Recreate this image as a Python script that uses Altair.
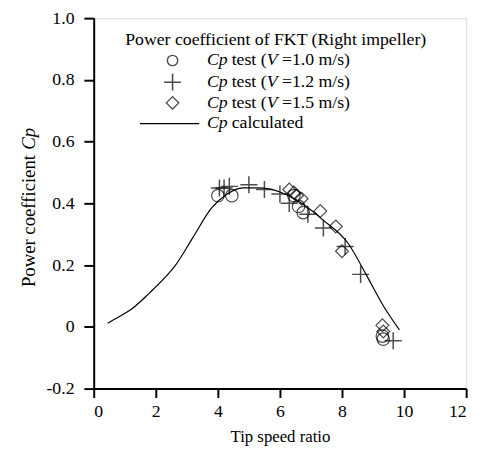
import altair as alt
import pandas as pd

# ---- data ----
v10_x = [4.0, 4.45, 6.45, 6.6, 6.75, 9.3, 9.33]
v10_y = [0.425, 0.425, 0.425, 0.39, 0.37, -0.03, -0.04]

v12_x = [4.05, 4.2, 4.37, 5.0, 5.5, 6.0, 6.3, 6.9, 7.4, 8.1, 8.6, 9.65]
v12_y = [0.45, 0.45, 0.455, 0.46, 0.445, 0.43, 0.40, 0.365, 0.32, 0.26, 0.17, -0.045]

v15_x = [6.3, 6.45, 6.55, 6.7, 7.3, 7.8, 8.0, 9.3, 9.33]
v15_y = [0.445, 0.435, 0.425, 0.415, 0.375, 0.325, 0.245, 0.005, -0.015]

calc_x = [0.45, 0.8, 1.2, 1.8, 2.3, 2.6, 3.2, 3.8, 4.3, 4.8, 5.3, 6.0, 6.7, 7.4, 8.2, 8.8, 9.35, 9.85]
calc_y = [0.012, 0.032, 0.056, 0.11, 0.16, 0.195, 0.29, 0.385, 0.43, 0.45, 0.45, 0.437, 0.40, 0.345, 0.27, 0.165, 0.065, -0.01]

x_ticks = [0, 2, 4, 6, 8, 10, 12]
y_ticks = [-0.2, 0, 0.2, 0.4, 0.6, 0.8, 1.0]

legend_title = "Power coefficient of FKT (Right impeller)"
legend_speeds = ["=1.0 m/s)", "=1.2 m/s)", "=1.5 m/s)"]
legend_calc = "calculated"

FONT = "Liberation Serif"
W, H = 378, 376

xs = alt.Scale(domain=[0, 12], nice=False, zero=False)
ys = alt.Scale(domain=[-0.2, 1.0], nice=False, zero=False)

x_axis = alt.Axis(values=x_ticks, title="Tip speed ratio", grid=False,
                  tickSize=9, tickWidth=2, domainWidth=2, domainColor="black", tickColor="black",
                  labelFont=FONT, labelFontSize=18, labelColor="black", labelPadding=5,
                  titleFont=FONT, titleFontSize=17, titleFontWeight="normal", titleColor="black",
                  titlePadding=9)
y_axis = alt.Axis(values=y_ticks, title=None, grid=False,
                  labelExpr="datum.value == 0 ? '0' : (datum.value < 0 ? '-' + format(-datum.value, '.1f') : format(datum.value, '.1f'))",
                  tickSize=10, tickWidth=2, domainWidth=2, domainColor="black", tickColor="black",
                  labelFont=FONT, labelFontSize=18, labelColor="black", labelPadding=10)

plus_shape = "M-1,0L1,0M0,-1L0,1"

d10 = pd.DataFrame({"x": v10_x, "y": v10_y})
d12 = pd.DataFrame({"x": v12_x, "y": v12_y})
d15 = pd.DataFrame({"x": v15_x, "y": v15_y})
dc = pd.DataFrame({"x": calc_x, "y": calc_y})

line = alt.Chart(dc).mark_line(color="black", strokeWidth=1.2, interpolate="monotone").encode(
    x=alt.X("x:Q", scale=xs, axis=x_axis), y=alt.Y("y:Q", scale=ys, axis=y_axis))
circ = alt.Chart(d10).mark_point(shape="circle", size=160, color="black", strokeWidth=1.2, filled=False).encode(
    x=alt.X("x:Q", scale=xs), y=alt.Y("y:Q", scale=ys))
plus = alt.Chart(d12).mark_point(shape=plus_shape, size=300, color="black", strokeWidth=1.5, filled=False).encode(
    x=alt.X("x:Q", scale=xs), y=alt.Y("y:Q", scale=ys))
diam = alt.Chart(d15).mark_point(shape="diamond", size=170, color="black", strokeWidth=1.2, filled=False).encode(
    x=alt.X("x:Q", scale=xs), y=alt.Y("y:Q", scale=ys))

# ---- manual legend & y title (pixel positions relative to plot area) ----
one = pd.DataFrame({"a": [0]})
OX, OY = 95, 15  # plot origin on page
FS = 18


def txt(s, px, py, italic=False, angle=0, align="left", size=FS):
    kw = dict(text=s, font=FONT, fontSize=size, color="black", align=align, baseline="middle")
    if italic:
        kw["fontStyle"] = "italic"
    if angle:
        kw["angle"] = angle
    return alt.Chart(one).mark_text(**kw).encode(x=alt.value(px - OX), y=alt.value(py - OY))


def sym(shape, px, py, size, sw):
    return alt.Chart(one).mark_point(shape=shape, size=size, color="black", strokeWidth=sw, filled=False).encode(
        x=alt.value(px - OX), y=alt.value(py - OY))


layers = [line, circ, plus, diam]
layers.append(txt(legend_title, 127, 37))
row_y = [58, 80, 101]
shapes = [("circle", 110, 1.4), (plus_shape, 290, 1.6), ("diamond", 160, 1.4)]
for ry, (shp, sz, sw), sp in zip(row_y, shapes, legend_speeds):
    layers.append(sym(shp, 175, ry, sz, sw))
    layers.append(txt("Cp", 210, ry, italic=True))
    layers.append(txt("test (", 235, ry))
    layers.append(txt("V", 270.5, ry, italic=True))
    layers.append(txt(sp, 286, ry))
layers.append(alt.Chart(one).mark_rule(color="black", strokeWidth=1.2).encode(
    x=alt.value(142 - OX), x2=alt.value(202 - OX), y=alt.value(122 - OY)))
layers.append(txt("Cp", 210, 122, italic=True))
layers.append(txt(legend_calc, 235, 122))

# rotated y title
layers.append(txt("Power coefficient", 29, 288, angle=270, size=19))
layers.append(txt("Cp", 29, 148.5, italic=True, angle=270, size=19))

chart = alt.layer(*layers).properties(
    width=W, height=H,
    autosize=alt.AutoSizeParams(type="none"),
    padding={"left": OX - 8, "top": OY - 8, "right": 10, "bottom": 56},
).configure_view(stroke=None).configure(background="white")

chart.save("out.html", embed_options={"renderer": "svg", "actions": False})
